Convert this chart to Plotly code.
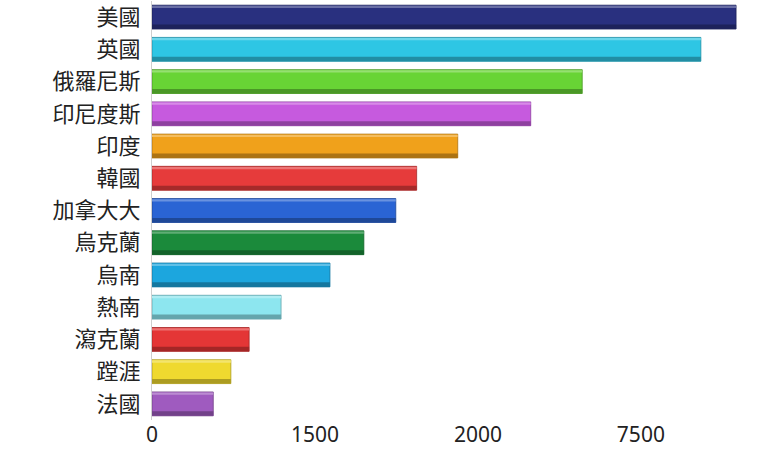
import plotly.graph_objects as go

# Data (bars top to bottom)
countries = ['美國', '英國', '俄羅尼斯', '印尼度斯', '印度', '韓國', '加拿大大',
             '烏克蘭', '烏南', '熱南', '瀉克蘭', '蹚涯', '法國']
values = [8960, 8420, 6600, 5810, 4690, 4060, 3740, 3250, 2730, 1980, 1490, 1210, 940]
tick_vals = [0, 2500, 5000, 7500]
tick_text = ['0', '1500', '2000', '7500']

BAR_COLORS = ['#29307f', '#2ec6e4', '#68d435', '#c65ade', '#f0a11b', '#e63b3b',
              '#2a64d4', '#1b8a3b', '#1ca6de', '#8de6ef', '#e43636', '#efd92f', '#9f5bbf']


def _shade(hex_color, f):
    h = hex_color.lstrip('#')
    r, g, b = (int(h[i:i + 2], 16) for i in (0, 2, 4))
    if f < 1:
        r, g, b = int(r * f), int(g * f), int(b * f)
    else:
        t = f - 1
        r, g, b = (int(c + (255 - c) * t) for c in (r, g, b))
    return f'rgb({r},{g},{b})'


dark = [_shade(c, 0.72) for c in BAR_COLORS]
light = [_shade(c, 1.3) for c in BAR_COLORS]

W = 0.74
fig = go.Figure()
# main bar
fig.add_trace(go.Bar(
    x=values, y=countries, orientation='h', width=W,
    marker=dict(color=BAR_COLORS, line=dict(width=0.8, color=dark)),
    hoverinfo='x+y', showlegend=False))
# darker bottom edge
fig.add_trace(go.Bar(
    x=values, y=countries, orientation='h', width=0.14, offset=W / 2 - 0.14,
    marker=dict(color=dark, line=dict(width=0)),
    hoverinfo='skip', showlegend=False))
# light top highlight
fig.add_trace(go.Bar(
    x=values, y=countries, orientation='h', width=0.07, offset=-W / 2 + 0.02,
    marker=dict(color=light, line=dict(width=0)),
    hoverinfo='skip', showlegend=False))

fig.update_layout(
    barmode='overlay',
    width=768, height=455,
    paper_bgcolor='white', plot_bgcolor='white',
    margin=dict(l=152, r=0, t=1, b=35),
    font=dict(family='Noto Sans CJK TC, Noto Sans, sans-serif', color='#222'),
    xaxis=dict(range=[0, 9450], tickvals=tick_vals, ticktext=tick_text,
               showgrid=False, zeroline=False, showline=False,
               tickfont=dict(size=21, family='Noto Sans, Open Sans, sans-serif', color='#222')),
    yaxis=dict(autorange='reversed', showgrid=False, zeroline=False,
               showline=True, linecolor='#cfcfcf', linewidth=1,
               automargin=False, ticklabelstandoff=6,
               tickfont=dict(size=22, family='Noto Sans CJK TC, sans-serif', color='#222')),
)

fig.write_html('out.html', config={'displayModeBar': False},
               post_script="document.body.style.margin='0';")
